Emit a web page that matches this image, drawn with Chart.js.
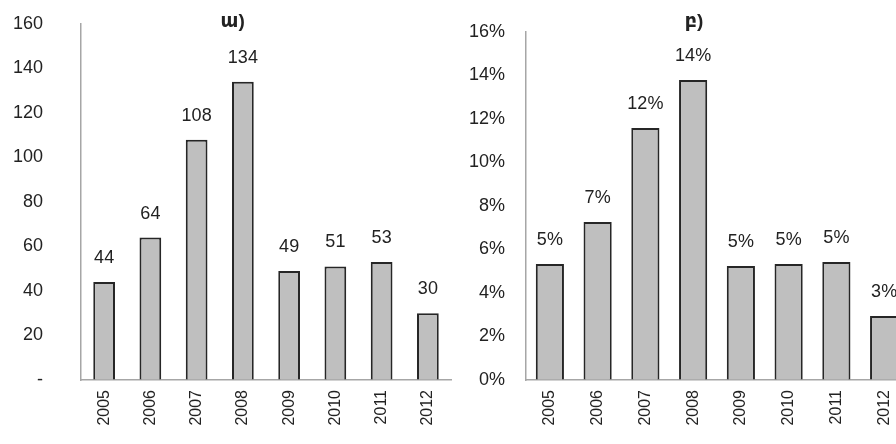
<!DOCTYPE html>
<html lang="hy">
<head>
  <meta charset="UTF-8" />
  <title>Ցուցանիշներ 2005-2012</title>
  <script src="https://cdn.jsdelivr.net/npm/chart.js"></script>
  <style>
    html, body { margin: 0; padding: 0; background: #fff; }
    #wrap { position: relative; width: 896px; height: 444px; overflow: hidden; }
    #boxA { position: absolute; left: 0; top: 0; width: 460px; height: 444px; }
    #boxB { position: absolute; left: 460px; top: 0; width: 460px; height: 444px; }
  </style>
</head>
<body>
  <div id="wrap">
    <div id="boxA"><canvas id="grafA"></canvas></div>
    <div id="boxB"><canvas id="grafB"></canvas></div>
  </div>

  <script>
    const years = ["2005", "2006", "2007", "2008", "2009", "2010", "2011", "2012"];
    const countValues = [44, 64, 108, 134, 49, 51, 53, 30];
    const shareValues = [5.33, 7.26, 11.59, 13.79, 5.24, 5.33, 5.43, 2.94];
    const titleA = "ա)";
    const titleB = "բ)";

    const FONT = "'Liberation Sans', Arial, 'DejaVu Sans', sans-serif";
    Chart.defaults.font.family = FONT;
    Chart.defaults.font.size = 18;
    Chart.defaults.color = "#222";

    // value labels above each bar + panel letter
    const etiquetas = {
      id: "etiquetas",
      afterDatasetsDraw(chart, args, opts) {
        const ctx = chart.ctx;
        const meta = chart.getDatasetMeta(0);
        const vals = chart.data.datasets[0].data;
        ctx.save();
        ctx.fillStyle = "#222";
        ctx.font = "18px " + FONT;
        ctx.textAlign = "center";
        ctx.textBaseline = "middle";
        meta.data.forEach((bar, i) => {
          ctx.fillText(opts.format(vals[i]), bar.x, bar.y - 24);
        });
        const area = chart.chartArea;
        ctx.font = "bold 19px " + FONT;
        ctx.fillText(opts.title, area.left + (area.right - area.left) * opts.titlePos, 22);
        ctx.restore();
      }
    };

    function crearGrafica(id, valores, opciones) {
      return new Chart(document.getElementById(id), {
        type: "bar",
        data: {
          labels: years,
          datasets: [{
            data: valores,
            backgroundColor: "#bfbfbf",
            borderColor: "#262626",
            borderWidth: 2,
            barPercentage: opciones.barPct,
            categoryPercentage: 1
          }]
        },
        plugins: [etiquetas],
        options: {
          responsive: true,
          maintainAspectRatio: false,
          animation: false,
          layout: { padding: { top: opciones.top, right: opciones.right, left: 0, bottom: 0 } },
          plugins: {
            legend: { display: false },
            tooltip: { enabled: false },
            etiquetas: { format: opciones.format, title: opciones.title, titlePos: opciones.titlePos }
          },
          scales: {
            x: {
              grid: { color: "transparent", drawTicks: false },
              border: { display: true, color: "#a6a6a6", width: 1.5 },
              ticks: { minRotation: 90, maxRotation: 90, padding: 10, font: { size: 16 } },
              afterFit(s) { s.height = 64; }
            },
            y: {
              min: 0,
              max: opciones.max,
              grid: { color: "transparent", drawTicks: false },
              border: { display: true, color: "#a6a6a6", width: 1.5 },
              ticks: { stepSize: opciones.step, padding: opciones.tickPad, callback: opciones.tick },
              afterFit(s) {
                s.width = opciones.axisW;
                // the wide label gap should not push the plot area down
                s.paddingTop = 0;
                s.paddingBottom = 0;
              }
            }
          }
        }
      });
    }

    crearGrafica("grafA", countValues, {
      max: 160, step: 20, top: 24, right: 9, axisW: 81, tickPad: 38, barPct: 0.47,
      tick: v => (v === 0 ? "-" : v),
      format: v => String(v),
      title: titleA, titlePos: 0.41
    });

    crearGrafica("grafB", shareValues, {
      max: 16, step: 2, top: 32, right: 12, axisW: 66, tickPad: 21, barPct: 0.59,
      tick: v => v + "%",
      format: v => Math.round(v) + "%",
      title: titleB, titlePos: 0.44
    });
  </script>
</body>
</html>
